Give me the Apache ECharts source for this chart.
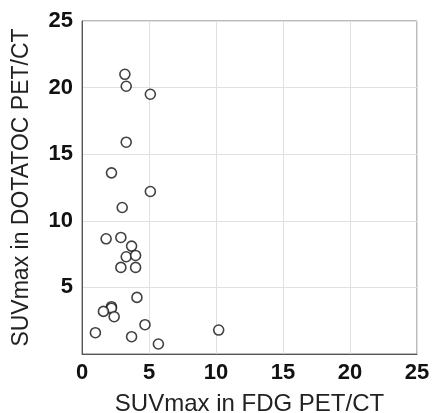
<!DOCTYPE html>
<html>
<head>
<meta charset="utf-8">
<script src="https://cdn.jsdelivr.net/npm/echarts@6/dist/echarts.min.js"></script>
<style>
  html, body { margin: 0; padding: 0; background: #fff; }
  #chart { width: 432px; height: 413px; }
</style>
</head>
<body>
<div id="chart"></div>
<script>
// SUVmax FDG vs DOTATOC
const fdgValues = [3.2, 3.3, 5.1, 3.3, 2.2, 5.1, 3.0, 1.8, 2.9, 3.7, 3.3, 4.0,
  2.9, 4.0, 4.1, 2.2, 2.2, 1.6, 2.4, 4.7, 1.0, 3.7, 5.7, 10.2];
const dotatocValues = [21.0, 20.1, 19.5, 15.9, 13.6, 12.2, 11.0, 8.65, 8.75, 8.1, 7.3, 7.4,
  6.5, 6.5, 4.25, 3.55, 3.43, 3.2, 2.8, 2.2, 1.6, 1.3, 0.75, 1.8];
const axisTicks = [0, 5, 10, 15, 20, 25];

const points = fdgValues.map((x, i) => [x, dotatocValues[i]]);

const chart = echarts.init(document.getElementById('chart'));
const font = 'Liberation Sans, Arial, sans-serif';

const option = {
  animation: false,
  grid: {
    left: 82, right: 15, top: 21, bottom: 59,
    outerBoundsMode: 'none',
    containLabel: false,
    show: true, borderColor: '#777', borderWidth: 1
  },
  xAxis: {
    type: 'value',
    min: axisTicks[0], max: axisTicks[axisTicks.length - 1], interval: 5,
    name: 'SUVmax in FDG PET/CT',
    nameLocation: 'middle',
    nameGap: 38,
    nameTextStyle: { fontFamily: font, fontSize: 24, color: '#222' },
    axisLine: { lineStyle: { color: '#555' } },
    axisTick: { show: false },
    axisLabel: { fontFamily: font, fontSize: 22, fontWeight: 'bold', color: '#111', margin: 8 },
    splitLine: { lineStyle: { color: '#e0e0e0' } }
  },
  yAxis: {
    type: 'value',
    min: axisTicks[0], max: axisTicks[axisTicks.length - 1], interval: 5,
    name: 'SUVmax in DOTATOC PET/CT',
    nameLocation: 'middle',
    nameGap: 49,
    nameTextStyle: { fontFamily: font, fontSize: 23, color: '#222' },
    axisLine: { show: true, lineStyle: { color: '#555' } },
    axisTick: { show: false },
    axisLabel: {
      fontFamily: font, fontSize: 22, fontWeight: 'bold', color: '#111', margin: 9,
      formatter: v => (v === 0 ? '' : v)
    },
    splitLine: { lineStyle: { color: '#e0e0e0' } }
  },
  series: [{
    type: 'scatter',
    data: points,
    symbol: 'circle',
    symbolSize: 10,
    itemStyle: { color: '#fff', borderColor: '#111', borderWidth: 1.6 }
  }]
};

chart.setOption(option);
</script>
</body>
</html>
